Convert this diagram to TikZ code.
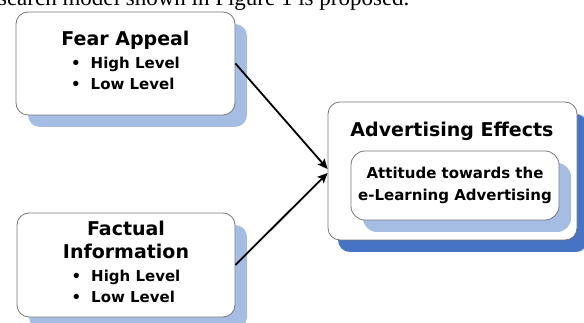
\documentclass[tikz,border=0pt]{standalone}
\usepackage{fontspec}
\setmainfont{DejaVu Sans}
\newfontfamily\bodyserif{Liberation Serif}
\usepackage{tikz}
\usetikzlibrary{arrows.meta}
\usetikzlibrary{shadows}

\definecolor{paleshadow}{RGB}{165,189,227}
\definecolor{deepshadow}{RGB}{70,115,196}
\definecolor{boxline}{RGB}{120,120,120}

% two bullet levels under a factor
\newcommand{\levelitems}{\fontsize{15}{21}\selectfont\begin{tabular}[t]{@{}l@{\hspace{10pt}}l@{}}\textbullet & High Level\\ \textbullet & Low Level\end{tabular}}

\begin{document}
\begin{tikzpicture}[x=1pt, y=-1pt,
    factor/.style={draw=boxline, line width=0.8pt, rounded corners=12pt, fill=white, inner sep=0pt,
        align=center, font=\bfseries\fontsize{19}{23}\selectfont,
        drop shadow={shadow xshift=12pt, shadow yshift=-12pt, fill=paleshadow, opacity=1}},
    effect/.style={factor, drop shadow={shadow xshift=10pt, shadow yshift=-12pt, fill=deepshadow, opacity=1}},
    link/.style={line width=1.8pt, -{Stealth[length=10pt, width=9pt, inset=2pt]}}]
    \useasboundingbox (0,0) rectangle (584,323);
    \clip (0,0) rectangle (584,323);

    \draw (413,6) node[anchor=base east, font=\bodyserif\fontsize{23}{26}\selectfont] (line) {research model shown in Figure 1 is proposed.};

    \draw (125.5,63.5) node[factor, minimum width=219pt, minimum height=103pt] (fear) {Fear Appeal\\ \levelitems};
    \draw (126,265) node[factor, minimum width=218pt, minimum height=104pt] (fact) {Factual\\ Information\\ \levelitems};

    \draw (452.5,171) node[effect, minimum width=249pt, minimum height=138pt] (adv) {};
    \draw (452,137) node[anchor=base, font=\bfseries\fontsize{19}{23}\selectfont] (advtitle) {Advertising Effects};
    \draw (455,185.5) node[factor, rounded corners=14pt, minimum width=208pt, minimum height=69pt,
        font=\bfseries\fontsize{15}{22}\selectfont] (att) {Attitude towards the\\ e-Learning Advertising};

    \draw[link] (fear.east) -- ([yshift=2pt]adv.west);
    \draw[link] (fact.east) -- ([yshift=-2pt]adv.west);
\end{tikzpicture}
\end{document}
